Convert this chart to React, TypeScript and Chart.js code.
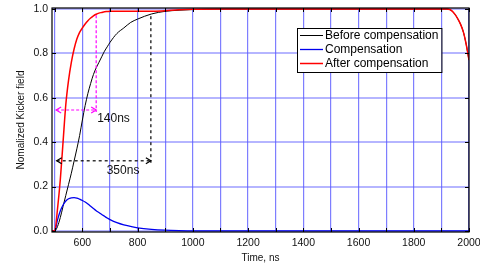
import React, { useEffect, useRef } from 'react';
import { Chart, registerables } from 'chart.js';

Chart.register(...registerables);

// ---- data ----
const times = [
  490, 500, 510, 520, 530, 540, 550, 560, 570, 580, 590, 600, 610, 620, 630, 640, 650, 660, 670, 680, 690, 700,
  725, 750, 775, 800, 850, 900, 950, 1000,
  1100, 1200, 1300, 1400, 1500, 1600, 1700, 1800, 1900,
  1910, 1920, 1930, 1940, 1950, 1960, 1970, 1980, 1990, 2000,
];
const beforeComp = [
  0, 0, 0.02, 0.06, 0.11, 0.16, 0.21, 0.26, 0.315, 0.37, 0.43, 0.5, 0.565, 0.62, 0.665, 0.705, 0.735, 0.76, 0.785, 0.81, 0.83, 0.85,
  0.89, 0.915, 0.94, 0.955, 0.978, 0.99, 0.995, 0.998,
  1, 1, 1, 1, 1, 1, 1, 1, 1,
  1, 1, 0.998, 0.99, 0.975, 0.955, 0.93, 0.895, 0.84, 0.77,
];
const compensation = [
  0, 0, 0.05, 0.09, 0.117, 0.135, 0.145, 0.149, 0.15, 0.148, 0.143, 0.137, 0.13, 0.121, 0.111, 0.101, 0.091, 0.083, 0.074, 0.066, 0.058, 0.051,
  0.037, 0.027, 0.02, 0.014, 0.007, 0.003, 0.001, 0,
  0, 0, 0, 0, 0, 0, 0, 0, 0,
  0, 0, 0, 0, 0, 0, 0, 0, 0, 0,
];
const afterComp = [
  0, 0, 0.1, 0.23, 0.4, 0.57, 0.68, 0.76, 0.82, 0.865, 0.895, 0.915, 0.933, 0.948, 0.96, 0.97, 0.977, 0.982, 0.985, 0.988, 0.989, 0.99,
  0.99, 0.99, 0.99, 0.99, 0.99, 0.993, 0.997, 0.999,
  1, 1, 1, 1, 1, 1, 1, 1, 1,
  1, 1, 0.998, 0.99, 0.975, 0.955, 0.93, 0.895, 0.84, 0.77,
];
const seriesLabels = ['Before compensation', 'Compensation', 'After compensation'];
const seriesColors = ['#000000', '#0000ee', '#ff0000'];
const seriesWidths = [1, 1.3, 1.5];

const xTicks = [500, 600, 700, 800, 900, 1000, 1100, 1200, 1300, 1400, 1500, 1600, 1700, 1800, 1900, 2000];
const yTicks = [0, 0.2, 0.4, 0.6, 0.8, 1.0];

// annotation: [start time, end time, arrow level, top of vertical line]
const riseAfterSpan = [505, 650, 0.545, 0.972];
const riseAfterLabel = '140ns';
const riseBeforeSpan = [507, 848, 0.316, 0.968];
const riseBeforeLabel = '350ns';

const FONT = '"Liberation Sans", Arial, Helvetica, sans-serif';

function arrowHead(ctx: CanvasRenderingContext2D, x: number, y: number, dir: number) {
  ctx.setLineDash([]);
  ctx.beginPath();
  ctx.moveTo(x - dir * 5, y - 3);
  ctx.lineTo(x, y);
  ctx.lineTo(x - dir * 5, y + 3);
  ctx.stroke();
}

function drawSpan(ctx: CanvasRenderingContext2D, chart: any, span: number[], color: string, dash: number[], label: string, labelDx: number, labelDy: number) {
  const { x, y } = chart.scales;
  const x0 = x.getPixelForValue(span[0]);
  const x1 = x.getPixelForValue(span[1]);
  const yl = y.getPixelForValue(span[2]);
  const yt = y.getPixelForValue(span[3]);
  ctx.strokeStyle = color;
  ctx.lineWidth = 1.2;
  ctx.setLineDash(dash);
  ctx.beginPath();
  ctx.moveTo(x1, yt);
  ctx.lineTo(x1, yl + 2);
  ctx.stroke();
  ctx.beginPath();
  ctx.moveTo(x0, yl);
  ctx.lineTo(x1, yl);
  ctx.stroke();
  arrowHead(ctx, x0, yl, -1);
  arrowHead(ctx, x1, yl, 1);
  ctx.fillStyle = '#111';
  ctx.font = `12px ${FONT}`;
  ctx.textAlign = 'left';
  ctx.textBaseline = 'middle';
  ctx.fillText(label, x0 + labelDx, yl + labelDy);
}

const overlay = {
  id: 'overlay',
  afterDatasetsDraw(chart: any) {
    const { ctx, chartArea: ca, scales } = chart;
    const { x, y } = scales;
    ctx.save();
    // inner ticks
    ctx.strokeStyle = '#000';
    ctx.lineWidth = 1;
    ctx.setLineDash([]);
    ctx.beginPath();
    xTicks.forEach((v) => {
      const px = Math.round(x.getPixelForValue(v)) + 0.5;
      ctx.moveTo(px, ca.bottom);
      ctx.lineTo(px, ca.bottom - 4);
      ctx.moveTo(px, ca.top);
      ctx.lineTo(px, ca.top + 4);
    });
    yTicks.forEach((v) => {
      const py = Math.round(y.getPixelForValue(v)) + 0.5;
      ctx.moveTo(ca.left, py);
      ctx.lineTo(ca.left + 4, py);
      ctx.moveTo(ca.right, py);
      ctx.lineTo(ca.right - 4, py);
    });
    ctx.stroke();
    // frame
    ctx.lineWidth = 1.2;
    ctx.strokeRect(ca.left, ca.top, ca.right - ca.left, ca.bottom - ca.top);

    // annotations
    drawSpan(ctx, chart, riseAfterSpan, '#ff00ff', [3, 2], riseAfterLabel, 41, 9);
    drawSpan(ctx, chart, riseBeforeSpan, '#000000', [3, 3], riseBeforeLabel, 50, 10);

    // legend
    ctx.font = `12px ${FONT}`;
    const maxW = Math.max(...seriesLabels.map((l) => ctx.measureText(l).width));
    const bx = 297;
    const by = 28;
    const bw = 28 + maxW + 3;
    const bh = 44;
    ctx.setLineDash([]);
    ctx.fillStyle = '#fff';
    ctx.fillRect(bx, by, bw, bh);
    ctx.strokeStyle = '#000';
    ctx.lineWidth = 1;
    ctx.strokeRect(bx + 0.5, by + 0.5, bw, bh);
    seriesLabels.forEach((lab, i) => {
      const ly = by + 7.5 + i * 14;
      ctx.strokeStyle = seriesColors[i];
      ctx.lineWidth = seriesWidths[i];
      ctx.beginPath();
      ctx.moveTo(bx + 3, ly);
      ctx.lineTo(bx + 26, ly);
      ctx.stroke();
      ctx.fillStyle = '#000';
      ctx.textAlign = 'left';
      ctx.textBaseline = 'middle';
      ctx.fillText(lab, bx + 28, ly);
    });
    ctx.restore();
  },
};

export default function App() {
  const canvasRef = useRef<HTMLCanvasElement | null>(null);

  useEffect(() => {
    const canvas = canvasRef.current;
    if (!canvas) return;
    Chart.defaults.font.family = FONT;
    const series = [beforeComp, compensation, afterComp];
    const chart = new Chart(canvas, {
      type: 'line',
      data: {
        datasets: series.map((vals, i) => ({
          label: seriesLabels[i],
          data: times.map((t, j) => ({ x: t, y: vals[j] })),
          borderColor: seriesColors[i],
          borderWidth: seriesWidths[i],
          pointRadius: 0,
          fill: false,
          cubicInterpolationMode: 'monotone' as const,
          order: 2 - i,
        })),
      },
      options: {
        responsive: false,
        animation: false,
        layout: { padding: { left: 0, right: 11, top: 8, bottom: 0 } },
        plugins: {
          legend: { display: false },
          tooltip: { enabled: false },
        },
        scales: {
          x: {
            type: 'linear',
            min: 490,
            max: 2000,
            afterBuildTicks: (s: any) => {
              s.ticks = xTicks.map((v) => ({ value: v }));
            },
            afterFit: (s: any) => {
              s.height = 35;
              s.paddingLeft = 0;
              s.paddingRight = 0;
            },
            ticks: {
              autoSkip: false,
              maxRotation: 0,
              padding: 5,
              color: '#111',
              font: { size: 10.5 },
              callback: (v: any) => (Number(v) % 200 === 0 ? String(v) : ''),
            },
            grid: {
              color: 'rgba(40,40,255,0.6)',
              lineWidth: 1.2,
              drawTicks: false,
            },
            border: { display: false },
            title: {
              display: true,
              text: 'Time, ns',
              color: '#111',
              font: { size: 10 },
              padding: { top: 0, bottom: 3 },
            },
          },
          y: {
            type: 'linear',
            min: -0.005,
            max: 1.005,
            afterBuildTicks: (s: any) => {
              s.ticks = yTicks.map((v) => ({ value: v }));
            },
            afterFit: (s: any) => {
              s.width = 52;
              s.paddingTop = 0;
              s.paddingBottom = 0;
            },
            ticks: {
              padding: 4,
              color: '#111',
              font: { size: 10.5 },
              callback: (v: any) => Number(v).toFixed(1),
            },
            grid: {
              color: 'rgba(90,90,255,0.45)',
              lineWidth: 2,
              drawTicks: false,
            },
            border: { display: false },
            title: {
              display: true,
              text: 'Nomalized Kicker field',
              color: '#111',
              font: { size: 10 },
              padding: { top: 15, bottom: 0 },
            },
          },
        },
      },
      plugins: [overlay],
    });
    return () => chart.destroy();
  }, []);

  return (
    <div style={{ position: 'fixed', left: 0, top: 0, width: 480, height: 267, background: '#fff' }}>
      <canvas ref={canvasRef} width={480} height={267} style={{ width: 480, height: 267, display: 'block' }} />
    </div>
  );
}
